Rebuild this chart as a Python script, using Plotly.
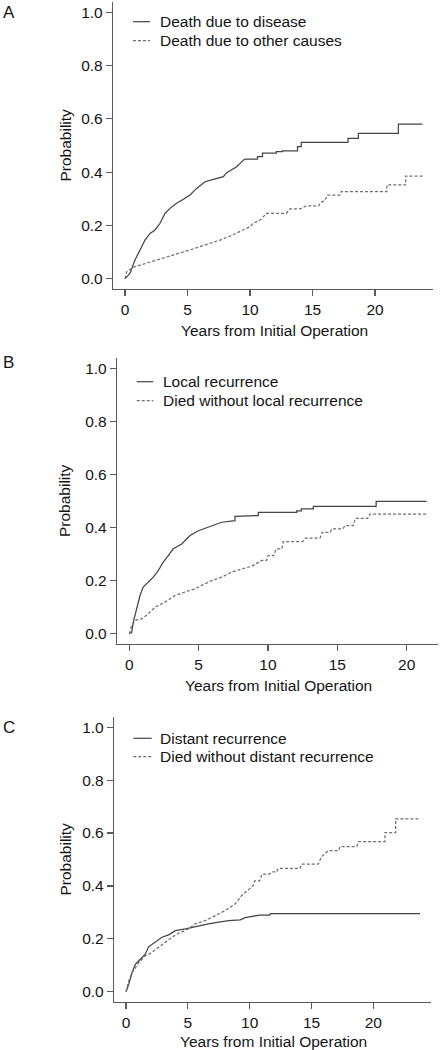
import plotly.graph_objects as go

# ---------------- data ----------------
# Panel A
a_disease_t = [0, 0.4, 0.8, 1.2, 1.6, 2.0, 2.4, 2.8, 3.2, 3.6, 4.13, 4.67, 5.2, 5.73, 6.4, 7.07, 7.87, 8.13, 8.93, 9.47,
               9.6, 10.6, 10.6, 11.0, 11.0, 12.1, 12.1, 12.6, 12.6, 13.8, 13.8, 14.1, 14.1, 17.84, 17.84, 18.67, 18.67,
               21.87, 21.87, 23.8]
a_disease_p = [0, 0.02, 0.07, 0.108, 0.145, 0.17, 0.183, 0.208, 0.245, 0.264, 0.283, 0.298, 0.314, 0.339, 0.364, 0.373,
               0.383, 0.398, 0.42, 0.445, 0.449, 0.449, 0.458, 0.458, 0.471, 0.471, 0.477, 0.477, 0.48, 0.48, 0.496,
               0.496, 0.512, 0.512, 0.527, 0.527, 0.546, 0.546, 0.58, 0.58]
a_other_t = [0, 0.13, 0.67, 1.47, 2.27, 3.07, 4.13, 5.2, 6.0, 6.8, 7.6, 8.4, 9.2, 10.0, 10.27, 10.8, 11.2, 11.3, 12.9,
             13.2, 14.0, 14.5, 15.5, 15.6, 16.0, 16.2, 17.2, 17.3, 20.95, 20.95, 22.45, 22.45, 23.8]
a_other_p = [0, 0.026, 0.043, 0.055, 0.066, 0.08, 0.093, 0.108, 0.12, 0.133, 0.145, 0.16, 0.176, 0.195, 0.208, 0.22,
             0.239, 0.245, 0.245, 0.262, 0.262, 0.273, 0.273, 0.284, 0.295, 0.314, 0.314, 0.327, 0.327, 0.352, 0.352,
             0.385, 0.385]
# Panel B
b_local_t = [0, 0.17, 0.29, 0.53, 0.77, 1.0, 1.37, 1.73, 2.09, 2.45, 2.81, 3.17, 3.78, 4.38, 4.98, 5.7, 6.66, 7.62,
             7.62, 9.3, 9.3, 12.07, 12.07, 12.4, 12.4, 13.27, 13.27, 17.8, 17.8, 21.44]
b_local_p = [0, 0.004, 0.044, 0.094, 0.144, 0.176, 0.194, 0.213, 0.238, 0.27, 0.294, 0.32, 0.338, 0.37, 0.388, 0.401,
             0.42, 0.426, 0.442, 0.445, 0.457, 0.457, 0.463, 0.463, 0.47, 0.47, 0.48, 0.48, 0.499, 0.499]
b_died_t = [0, 0.05, 0.17, 0.41, 0.89, 1.37, 1.85, 2.57, 3.3, 4.0, 4.74, 5.22, 5.94, 6.66, 7.38, 8.1, 8.82, 9.55, 9.9,
            10.0, 10.4, 10.6, 11.0, 11.1, 12.5, 12.7, 13.75, 13.9, 14.5, 14.6, 15.4, 15.55, 16.15, 16.3, 17.2, 17.35,
            21.44]
b_died_p = [0, 0.012, 0.031, 0.05, 0.056, 0.075, 0.1, 0.119, 0.144, 0.157, 0.169, 0.182, 0.2, 0.213, 0.232, 0.244,
            0.254, 0.276, 0.276, 0.294, 0.294, 0.32, 0.32, 0.347, 0.347, 0.36, 0.36, 0.382, 0.382, 0.395, 0.395, 0.407,
            0.407, 0.435, 0.435, 0.451, 0.451]
# Panel C
c_distant_t = [0, 0.22, 0.49, 0.75, 1.16, 1.56, 1.83, 2.37, 2.91, 3.45, 3.99, 4.8, 5.6, 6.68, 7.49, 8.3, 9.24, 9.65,
               10.3, 10.8, 11.6, 11.7, 23.77]
c_distant_p = [0, 0.028, 0.072, 0.104, 0.123, 0.142, 0.17, 0.187, 0.206, 0.215, 0.231, 0.238, 0.247, 0.257, 0.263,
               0.269, 0.272, 0.28, 0.286, 0.29, 0.29, 0.295, 0.295]
c_died_t = [0, 0.22, 0.49, 1.03, 1.56, 2.1, 2.64, 3.18, 3.72, 4.26, 5.07, 5.6, 6.41, 7.22, 8.03, 8.84, 9.38, 10.0,
            10.3, 10.4, 10.8, 11.0, 11.6, 11.8, 12.2, 12.3, 14.07, 14.2, 15.55, 15.8, 16.2, 16.35, 17.2, 17.3, 18.65,
            18.8, 20.94, 20.94, 21.8, 21.8, 23.77]
c_died_p = [0, 0.041, 0.072, 0.11, 0.136, 0.149, 0.168, 0.187, 0.206, 0.221, 0.238, 0.257, 0.269, 0.288, 0.307, 0.333,
            0.365, 0.39, 0.403, 0.419, 0.419, 0.445, 0.445, 0.453, 0.453, 0.466, 0.466, 0.483, 0.483, 0.51, 0.53,
            0.534, 0.534, 0.549, 0.549, 0.568, 0.568, 0.602, 0.602, 0.654, 0.654]

panel_labels = ["A", "B", "C"]
legend_texts = [["Death due to disease", "Death due to other causes"],
                ["Local recurrence", "Died without local recurrence"],
                ["Distant recurrence", "Died without distant recurrence"]]
x_ticks = [0, 5, 10, 15, 20]
y_ticks = [0.0, 0.2, 0.4, 0.6, 0.8, 1.0]
x_title = "Years from Initial Operation"
y_title = "Probability"

# ---------------- layout geometry (pixels) ----------------
W, H = 440, 1050
FONT = "Liberation Sans, Arial, sans-serif"
FS = 15.5
TXT = "#141414"
AXC = "#5a5a5a"
SOLID_C = "#444444"
DOT_C = "#6e6e6e"

# plot areas: (left, right, top, bottom) in px, x-range
panels = [
    dict(box=(113, 433, 2, 289), xr=[-0.96, 24.64],
         series=[(a_disease_t, a_disease_p), (a_other_t, a_other_p)],
         leg=(133, 150, 21.7, 40.7, 160), lab_y=12, title_dy=41),
    dict(box=(117, 438, 358, 644), xr=[-0.887, 22.26],
         series=[(b_local_t, b_local_p), (b_died_t, b_died_p)],
         leg=(136.7, 153.3, 381.7, 400.7, 163.3), lab_y=363, title_dy=41),
    dict(box=(114, 431, 717, 1002), xr=[-0.97, 24.66],
         series=[(c_distant_t, c_distant_p), (c_died_t, c_died_p)],
         leg=(133.3, 151.7, 738.3, 756.7, 160), lab_y=727, title_dy=39),
]


def px(x):
    return x / W


def py(y):
    return 1 - y / H


fig = go.Figure()
annotations = []
shapes = []
layout = {}

for i, pnl in enumerate(panels):
    n = "" if i == 0 else str(i + 1)
    l, r, t, b = pnl["box"]
    xa, ya = "x" + n, "y" + n
    for k, (tt, pp) in enumerate(pnl["series"]):
        fig.add_trace(go.Scatter(
            x=tt, y=pp, mode="lines", xaxis=xa, yaxis=ya, showlegend=False,
            line=dict(color=SOLID_C if k == 0 else DOT_C, width=1.25,
                      dash="solid" if k == 0 else "3px,2px"),
            hoverinfo="skip"))
    common = dict(showline=True, linecolor=AXC, linewidth=1.2, ticks="outside", ticklen=6,
                  tickcolor=AXC, tickwidth=1.2, showgrid=False, zeroline=False, fixedrange=True,
                  tickfont=dict(family=FONT, size=FS, color=TXT))
    layout["xaxis" + n] = dict(common, domain=[px(l), px(r)], anchor=ya, range=pnl["xr"],
                               tickvals=x_ticks, ticktext=[str(v) for v in x_ticks])
    layout["yaxis" + n] = dict(common, domain=[py(b), py(t)], anchor=xa, range=[-0.0387, 1.0387],
                               tickvals=y_ticks, ticktext=["%.1f" % v for v in y_ticks])
    # axis titles
    annotations.append(dict(xref="paper", yref="paper", x=px((l + r) / 2 + 1), y=py(b + pnl["title_dy"]),
                            text=x_title, showarrow=False, xanchor="center", yanchor="middle",
                            font=dict(family=FONT, size=FS, color=TXT)))
    annotations.append(dict(xref="paper", yref="paper", x=px(65), y=py((t + b) / 2),
                            text=y_title, showarrow=False, textangle=-90, xanchor="center",
                            yanchor="middle", font=dict(family=FONT, size=FS, color=TXT)))
    # panel label
    annotations.append(dict(xref="paper", yref="paper", x=px(1), y=py(pnl["lab_y"]),
                            text=panel_labels[i], showarrow=False, xanchor="left", yanchor="middle",
                            font=dict(family=FONT, size=17, color=TXT)))
    # legend (drawn manually)
    lx0, lx1, ly0, ly1, tx = pnl["leg"]
    for k, ly in enumerate([ly0, ly1]):
        shapes.append(dict(type="line", xref="paper", yref="paper", x0=px(lx0), x1=px(lx1),
                           y0=py(ly), y1=py(ly),
                           line=dict(color=SOLID_C if k == 0 else DOT_C, width=1.2,
                                     dash="solid" if k == 0 else "3px,2px")))
        annotations.append(dict(xref="paper", yref="paper", x=px(tx - 2), y=py(ly),
                                text=legend_texts[i][k], showarrow=False, xanchor="left",
                                yanchor="middle", font=dict(family=FONT, size=FS, color=TXT)))

fig.update_layout(width=W, height=H, margin=dict(l=0, r=0, t=0, b=0),
                  paper_bgcolor="white", plot_bgcolor="white", hovermode=False,
                  annotations=annotations, shapes=shapes, **layout)
fig.write_html("out.html", config={"displayModeBar": False, "staticPlot": True},
               post_script="document.body.style.margin='0';document.body.style.padding='0';"
                           "document.body.style.overflow='hidden';")
